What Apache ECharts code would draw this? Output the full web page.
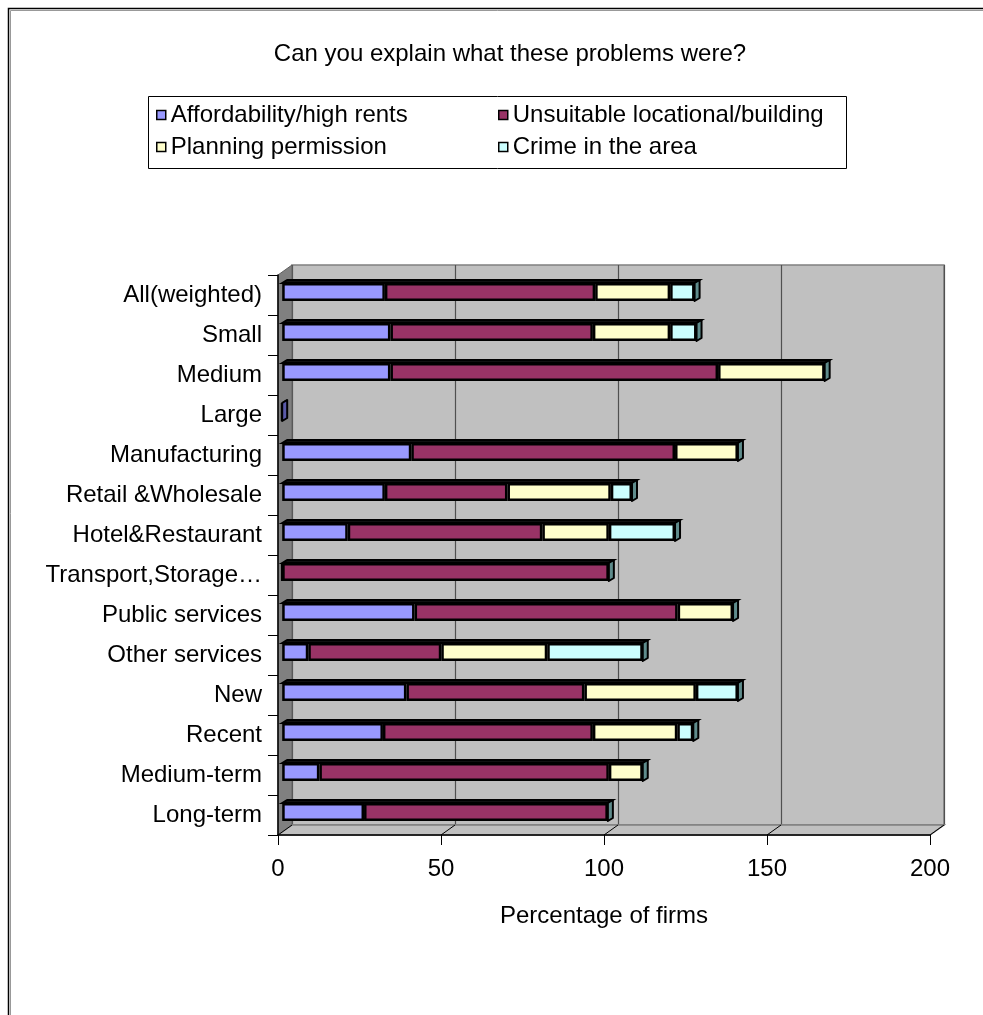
<!DOCTYPE html>
<html>
<head>
<meta charset="utf-8">
<script src="https://cdn.jsdelivr.net/npm/echarts@6/dist/echarts.min.js"></script>
<style>
  html, body { margin: 0; padding: 0; background: #ffffff; }
  #chart { width: 983px; height: 1015px; }
</style>
</head>
<body>
<div id="chart"></div>
<script>
// Categories (top to bottom) and the four stacked problem types, in % of firms
const categories = [
  'All(weighted)', 'Small', 'Medium', 'Large', 'Manufacturing',
  'Retail &Wholesale', 'Hotel&Restaurant', 'Transport,Storage…',
  'Public services', 'Other services', 'New', 'Recent', 'Medium-term', 'Long-term'
];
const seriesNames = [
  'Affordability/high rents', 'Unsuitable locational/building',
  'Planning permission', 'Crime in the area'
];
const affordability = [31.5, 33.2, 33.2, 0, 39.6, 31.5, 20.1, 0, 40.6, 8.0, 38.1, 30.9, 11.4, 25.1];
const unsuitable    = [64.5, 62.1, 100.5, 0, 80.9, 37.6, 59.7, 100.2, 80.7, 40.8, 54.6, 64.4, 88.8, 74.8];
const planning      = [23.0, 23.7, 32.7, 0, 19.3, 31.7, 20.4, 0, 17.0, 32.5, 34.2, 25.9, 10.4, 0];
const crime         = [7.5, 8.1, 0, 0, 0, 6.5, 20.3, 0, 0, 29.3, 12.9, 4.9, 0, 0];
const xTicks = [0, 50, 100, 150, 200];

const seriesValues = [affordability, unsuitable, planning, crime];
const colors = ['#9999FF', '#993366', '#FFFFCC', '#CCFFFF'];
const capColors = ['#5A5AA8', '#6B2447', '#9A9A78', '#5F8C8C'];
const FONT = '"Liberation Sans", Arial, sans-serif';
const FS = 24;

// 3-D box: front plane, depth offset to the back wall, bars sit part-way in
const FRONT = { left: 278, top: 275, width: 652, height: 560 };
const DX = 14, DY = -10;
const BAR_DEPTH = 0.3;
const BAR_H = 18, TOP_DX = 5, TOP_DY = -3;

const totals = categories.map((_, i) => seriesValues.reduce((s, arr) => s + arr[i], 0));

const chart = echarts.init(document.getElementById('chart'), null, { renderer: 'canvas' });

function grid(off) {
  return { left: FRONT.left + DX * off, top: FRONT.top + DY * off,
           width: FRONT.width, height: FRONT.height, containLabel: false };
}

const hiddenValueAxis = (gi) => ({
  type: 'value', gridIndex: gi, min: 0, max: 200, interval: 50,
  axisLine: { show: false }, axisTick: { show: false }, axisLabel: { show: false },
  splitLine: { show: false }
});
const hiddenCatAxis = (gi) => ({
  type: 'category', gridIndex: gi, data: categories, inverse: true,
  axisLine: { show: false }, axisTick: { show: false }, axisLabel: { show: false },
  splitLine: { show: false }
});

// Floor, left side wall and the floor's tick lines, drawn from the front grid
function renderBox(params, api) {
  const cs = params.coordSys;
  const x0 = cs.x, y0 = cs.y, x1 = cs.x + cs.width, y1 = cs.y + cs.height;
  const children = [];
  children.push({
    type: 'polygon',
    shape: { points: [[x0, y0], [x0 + DX, y0 + DY], [x0 + DX, y1 + DY], [x0, y1]] },
    style: { fill: '#808080', stroke: '#606060', lineWidth: 1 }
  });
  children.push({
    type: 'polygon',
    shape: { points: [[x0, y1], [x0 + DX, y1 + DY], [x1 + DX, y1 + DY], [x1, y1]] },
    style: { fill: '#C0C0C0', stroke: '#808080', lineWidth: 1.5 }
  });
  xTicks.forEach(t => {
    const px = api.coord([t, categories[categories.length - 1]])[0];
    children.push({
      type: 'line',
      shape: { x1: px, y1: y1, x2: px + DX, y2: y1 + DY },
      style: { stroke: '#000', lineWidth: 1 }
    });
  });
  return { type: 'group', children };
}

// Top face and end cap of each stacked bar
function renderBarTops(params, api) {
  const total = api.value(0);
  const idx = api.value(1);
  const end = api.coord([total, idx]);
  const start = api.coord([0, idx]);
  const yTop = end[1] - BAR_H / 2, yBot = end[1] + BAR_H / 2;
  const capFill = total > 0 ? capColors[3] : capColors[0];
  return {
    type: 'group',
    children: [
      {
        type: 'polygon',
        shape: { points: [[start[0], yTop], [start[0] + TOP_DX, yTop + TOP_DY],
                          [end[0] + TOP_DX, yTop + TOP_DY], [end[0], yTop]] },
        style: { fill: '#111', stroke: '#000', lineWidth: 2 }
      },
      {
        type: 'polygon',
        shape: { points: [[end[0], yTop], [end[0] + TOP_DX, yTop + TOP_DY],
                          [end[0] + TOP_DX, yBot + TOP_DY], [end[0], yBot]] },
        style: { fill: capFill, stroke: '#000', lineWidth: 2, lineJoin: 'round' }
      }
    ]
  };
}

const legendBase = {
  orient: 'vertical', top: 98, itemGap: 8,
  icon: 'rect', itemWidth: 9, itemHeight: 9,
  itemStyle: { borderColor: '#000', borderWidth: 1.5 },
  textStyle: { fontFamily: FONT, fontSize: FS, color: '#000' },
  selectedMode: false
};

const option = {
  backgroundColor: '#ffffff',
  animation: false,
  textStyle: { fontFamily: FONT },
  title: {
    text: 'Can you explain what these problems were?',
    left: 505, top: 37, textAlign: 'center',
    textStyle: { fontFamily: FONT, fontSize: FS, fontWeight: 'normal', color: '#000' }
  },
  legend: [
    Object.assign({}, legendBase, { data: [seriesNames[0], seriesNames[2]], left: 151 }),
    Object.assign({}, legendBase, { data: [seriesNames[1], seriesNames[3]], left: 493 })
  ],
  graphic: [
    { type: 'rect', shape: { x: 8.5, y: 8.5, width: 1200, height: 1200 },
      style: { fill: 'none', stroke: '#000', lineWidth: 1.5 }, z: 100 },
    { type: 'rect', shape: { x: 10.5, y: 10.5, width: 1200, height: 1200 },
      style: { fill: 'none', stroke: '#999', lineWidth: 1 }, z: 100 },
    { type: 'rect', shape: { x: 148.5, y: 96.5, width: 698, height: 72 },
      style: { fill: 'none', stroke: '#000', lineWidth: 1 }, z: 100 }
  ],
  grid: [
    // back wall
    Object.assign(grid(1), { show: true, backgroundColor: '#C0C0C0', borderColor: '#808080', borderWidth: 1.5 }),
    // front plane (axes, labels)
    grid(0),
    // bars
    grid(BAR_DEPTH)
  ],
  xAxis: [
    Object.assign(hiddenValueAxis(0), {
      splitLine: { show: true, lineStyle: { color: '#505050', width: 1.2 } }
    }),
    {
      type: 'value', gridIndex: 1, min: 0, max: 200, interval: 50, z: 10,
      name: 'Percentage of firms', nameLocation: 'middle', nameGap: 69,
      nameTextStyle: { fontFamily: FONT, fontSize: FS, color: '#000' },
      axisLine: { show: true, lineStyle: { color: '#000', width: 1.5 } },
      axisTick: { show: true, length: 10, lineStyle: { color: '#000', width: 1 } },
      axisLabel: { show: true, margin: 22, fontFamily: FONT, fontSize: FS, color: '#000' },
      splitLine: { show: false }
    },
    hiddenValueAxis(2)
  ],
  yAxis: [
    hiddenCatAxis(0),
    {
      type: 'category', gridIndex: 1, data: categories, inverse: true, z: 10,
      axisLine: { show: true, lineStyle: { color: '#000', width: 1.5 } },
      axisTick: { show: true, length: 10, lineStyle: { color: '#000', width: 1 } },
      axisLabel: { show: true, margin: 16, fontFamily: FONT, fontSize: FS, color: '#000' },
      splitLine: { show: false }
    },
    hiddenCatAxis(2)
  ],
  series: [
    {
      type: 'custom', name: 'box', xAxisIndex: 1, yAxisIndex: 1, z: 1,
      renderItem: renderBox, data: [[0, 0]], silent: true, clip: false
    }
  ].concat(seriesNames.map((name, s) => ({
    type: 'bar', name, stack: 'total', xAxisIndex: 2, yAxisIndex: 2, z: 3,
    barWidth: BAR_H,
    itemStyle: { color: colors[s], borderColor: '#000', borderWidth: 2.5 },
    data: seriesValues[s]
  }))).concat([
    {
      type: 'custom', name: 'tops', xAxisIndex: 2, yAxisIndex: 2, z: 4,
      renderItem: renderBarTops, clip: false, silent: true,
      data: categories.map((c, i) => [totals[i], i])
    }
  ])
};

chart.setOption(option);
</script>
</body>
</html>
